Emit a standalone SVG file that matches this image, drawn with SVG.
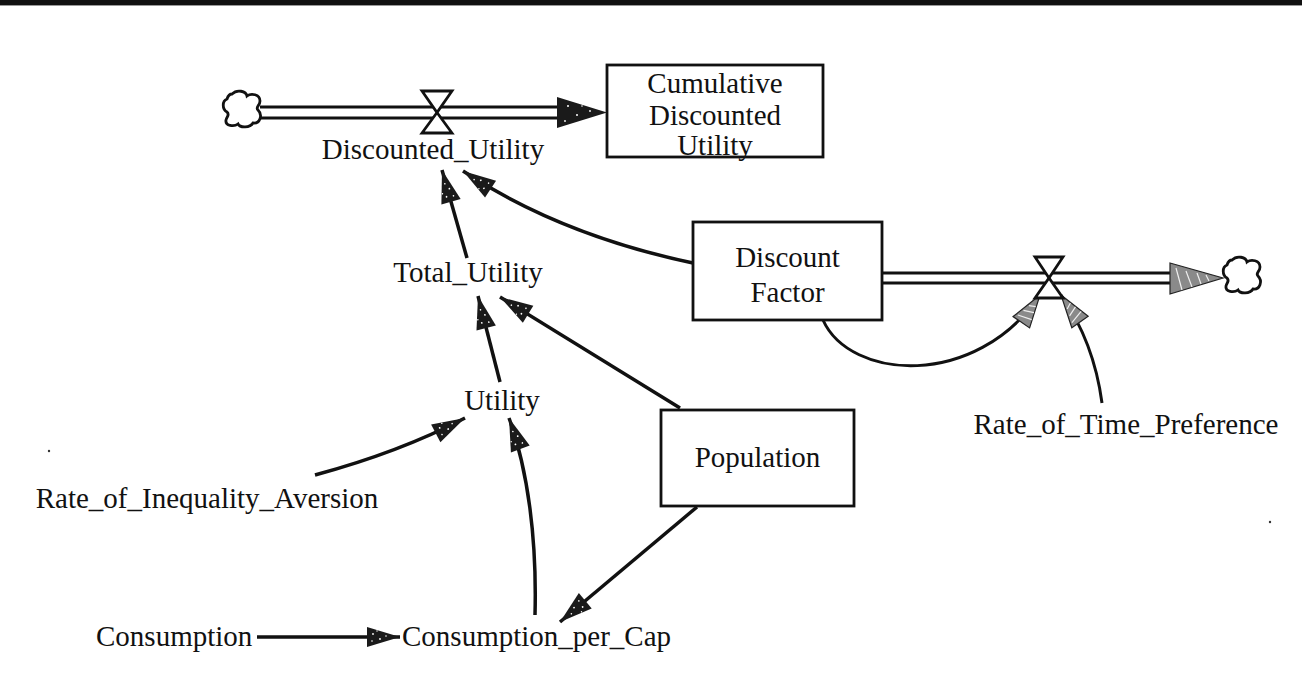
<svg xmlns="http://www.w3.org/2000/svg" width="1302" height="684" viewBox="0 0 1302 684">
<style>
.t{font-family:"Liberation Serif","Times New Roman",serif;font-size:29px;fill:#111;}
.m{text-anchor:middle;}
.box{fill:#fff;stroke:#111;stroke-width:2.8;}
.lnk{fill:none;stroke:#111;stroke-width:3.5;marker-end:url(#ah);}
.lnkg{fill:none;stroke:#111;stroke-width:3;marker-end:url(#ahg);}
.pipe{fill:none;stroke:#111;stroke-width:2.8;}
.valve{fill:#fff;stroke:#111;stroke-width:2.8;stroke-linejoin:miter;}
.cloud{fill:#fff;stroke:#111;stroke-width:2.8;}
</style>
<defs>
<marker id="ah" markerUnits="userSpaceOnUse" markerWidth="36" markerHeight="24" refX="33" refY="10" orient="auto" overflow="visible">
<path d="M0,0 L33,10 L0,20 z" fill="#1a1a1a"/>
<circle cx="6" cy="7" r="0.9" fill="#fff"/><circle cx="13" cy="12" r="0.9" fill="#fff"/><circle cx="5" cy="14" r="0.8" fill="#fff"/><circle cx="19" cy="9" r="0.8" fill="#fff"/><circle cx="10" cy="4" r="0.7" fill="#fff"/>
</marker>
<marker id="ahg" markerUnits="userSpaceOnUse" markerWidth="36" markerHeight="24" refX="33" refY="10" orient="auto" overflow="visible">
<path d="M0,0 L33,10 L0,20 z" fill="#8a8a8a" stroke="#222" stroke-width="1.2"/>
<path d="M4,3 L8,17 M11,5 L15,15 M18,7 L21,13" stroke="#eee" stroke-width="1.2"/>
</marker>
</defs>

<rect x="0" y="0" width="1302" height="5" fill="#111"/>
<rect x="0" y="5" width="1302" height="1" fill="#999"/>

<g id="connectors">
<path class="lnk" d="M467,258 L442,170"/>
<path class="lnk" d="M693,263 Q560,235 463,171"/>
<path class="lnk" d="M500,382 L478,296"/>
<path class="lnk" d="M680,408 L500,297"/>
<path class="lnk" d="M315,475 Q400,452 465,418"/>
<path class="lnk" d="M535,615 C537,540 528,470 509,418"/>
<path class="lnk" d="M697,507 L560,622"/>
<path class="lnk" d="M257,637 L400,637"/>
<path class="lnkg" d="M823,320 C850,380 975,390 1040,295"/>
<path class="lnkg" d="M1102,403 C1096,358 1080,322 1061,295"/>
</g>

<g id="flow-discounted-utility">
<path class="cloud" d="M232,94 c5,-5 14,-3 15,2 c4,-3 13,-2 13,5 c0,5 -5,6 -2,9 c5,5 2,14 -5,13 c-3,5 -13,5 -15,1 c-4,3 -13,2 -12,-4 c1,-4 4,-5 1,-8 c-5,-3 -5,-11 0,-13 c1,-3 3,-5 5,-5 z"/>
<line class="pipe" x1="260" y1="107" x2="560" y2="107"/>
<line class="pipe" x1="260" y1="118" x2="560" y2="118"/>
<path d="M557,97 L607,112.5 L557,128 z" fill="#1a1a1a"/>
<circle cx="568" cy="106" r="1" fill="#fff"/><circle cx="577" cy="115" r="1" fill="#fff"/><circle cx="565" cy="121" r="0.9" fill="#fff"/><circle cx="590" cy="111" r="0.9" fill="#fff"/><circle cx="582" cy="106" r="0.8" fill="#fff"/>
<path class="valve" d="M422,91 L452,91 L437,112.5 z"/>
<path class="valve" d="M422,133 L452,133 L437,112.5 z"/>
<text class="t m" x="433" y="159">Discounted_Utility</text>
</g>

<g id="stock-cumulative">
<rect class="box" x="607" y="65" width="216" height="92"/>
<text class="t m" x="715" y="93">Cumulative</text>
<text class="t m" x="715" y="125">Discounted</text>
<text class="t m" x="715" y="155">Utility</text>
</g>

<g id="stock-discount-factor">
<rect class="box" x="693" y="222" width="189" height="98"/>
<text class="t m" x="787.5" y="267">Discount</text>
<text class="t m" x="787.5" y="302">Factor</text>
</g>

<g id="flow-discount-rate">
<line class="pipe" x1="882" y1="273" x2="1172" y2="273"/>
<line class="pipe" x1="882" y1="283" x2="1172" y2="283"/>
<path d="M1170,263 L1223,278 L1170,294 z" fill="#8a8a8a" stroke="#222" stroke-width="1.2"/>
<path d="M1176,268 L1182,290 M1186,271 L1192,287 M1197,273 L1201,284 M1206,275 L1209,281" stroke="#eee" stroke-width="1.2"/>
<path class="cloud" d="M1232,260 c5,-5 14,-3 15,2 c4,-3 13,-2 13,5 c0,5 -5,6 -2,9 c5,5 2,14 -5,13 c-3,5 -13,5 -15,1 c-4,3 -13,2 -12,-4 c1,-4 4,-5 1,-8 c-5,-3 -5,-11 0,-13 c1,-3 3,-5 5,-5 z"/>
<path class="valve" d="M1035,257 L1063,257 L1049,278 z"/>
<path class="valve" d="M1035,298 L1063,298 L1049,278 z"/>
</g>

<g id="total-utility"><text class="t m" x="468" y="282">Total_Utility</text></g>
<g id="utility"><text class="t m" x="502" y="410">Utility</text></g>
<g id="population">
<rect class="box" x="661" y="410" width="193" height="96"/>
<text class="t m" x="757.5" y="467">Population</text>
</g>
<g id="rate-time-preference"><text class="t m" x="1126" y="434">Rate_of_Time_Preference</text></g>
<g id="rate-inequality-aversion"><text class="t m" x="207" y="508">Rate_of_Inequality_Aversion</text></g>
<g id="consumption"><text class="t" x="96" y="646">Consumption</text></g>
<g id="consumption-per-cap"><text class="t" x="402" y="646">Consumption_per_Cap</text></g>

<circle cx="49" cy="451" r="1.2" fill="#333"/>
<circle cx="1270" cy="522" r="1.2" fill="#333"/>
</svg>
